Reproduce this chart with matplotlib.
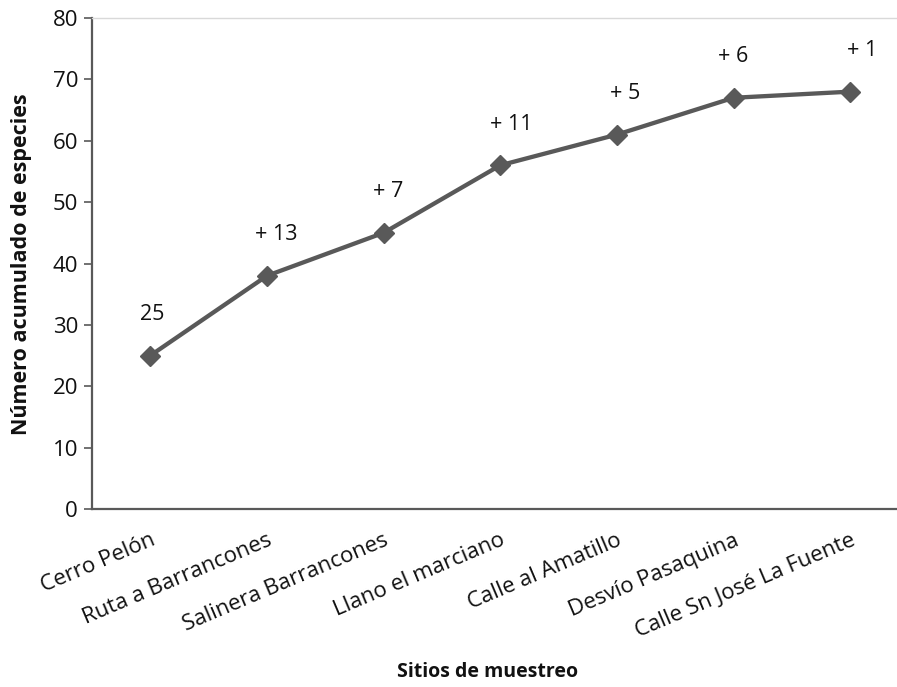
import matplotlib.pyplot as plt

sitios = ["Cerro Pelón", "Ruta a Barrancones", "Salinera Barrancones",
          "Llano el marciano", "Calle al Amatillo", "Desvío Pasaquina",
          "Calle Sn José La Fuente"]
acumulado = [25, 38, 45, 56, 61, 67, 68]
etiquetas = ["25", "+ 13", "+ 7", "+ 11", "+ 5", "+ 6", "+ 1"]
y_ticks = [0, 10, 20, 30, 40, 50, 60, 70, 80]

plt.rcParams['font.family'] = ['Open Sans', 'DejaVu Sans']

W, H = 897, 687
fig = plt.figure(figsize=(W / 100, H / 100), dpi=100)
left, right, top, bottom = 92, 908.5, 18, 509
ax = fig.add_axes([left / W, 1 - bottom / H, (right - left) / W, (bottom - top) / H])

gray = "#595959"
x = list(range(len(sitios)))
ax.plot(x, acumulado, color=gray, lw=3.1, marker="D", markersize=10.5,
        markerfacecolor=gray, markeredgecolor=gray, solid_joinstyle="round",
        clip_on=False, zorder=3)

dx = [2, 9, 5, 11, 8, 0, 12]
for i, (v, t) in enumerate(zip(acumulado, etiquetas)):
    ax.annotate(t, (i, v), xytext=(dx[i] * 0.72, 29.5), textcoords="offset points",
                ha="center", va="center", fontsize=15.5, color="#111111")

ax.set_xlim(-0.5, len(sitios) - 0.5)
ax.set_ylim(0, 80)
ax.set_yticks(y_ticks)
ax.set_xticks(x)
ax.set_xticklabels(sitios, rotation=23, ha="right", rotation_mode="anchor",
                   fontsize=16, color="#111111")
ax.tick_params(axis="x", length=0, pad=15)
ax.tick_params(axis="y", length=6, width=1.2, color=gray, labelsize=16,
               labelcolor="#111111", pad=4)

for s in ["left", "bottom"]:
    ax.spines[s].set_color(gray)
    ax.spines[s].set_linewidth(1.6)
ax.spines["top"].set_color("#d9d9d9")
ax.spines["top"].set_linewidth(1)
ax.spines["right"].set_visible(False)

fig.text(488 / W, 1 - 672 / H, "Sitios de muestreo", ha="center", va="center",
         fontsize=14, fontweight="bold", color="#111111")
fig.text(22 / W, 1 - 264 / H, "Número acumulado de especies", ha="center",
         va="center", rotation=90, fontsize=15.5, fontweight="bold", color="#111111")

fig.savefig("out.png", dpi=100)
